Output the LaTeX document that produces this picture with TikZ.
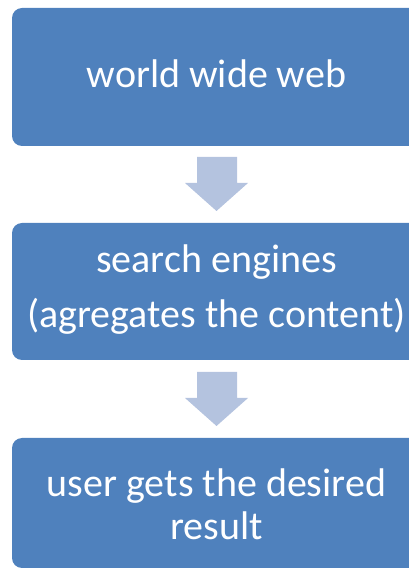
\documentclass[tikz,border=0pt]{standalone}
\usepackage{fontspec}
\setmainfont{Carlito}
\definecolor{boxblue}{HTML}{4F81BD}
\definecolor{arrowblue}{HTML}{B4C3DF}
\begin{document}
\begin{tikzpicture}[x=1pt,y=1pt,
  flowbox/.style={fill=boxblue, draw=none, rounded corners=10pt, minimum width=409pt, inner sep=0pt},
  boxtext/.style={text=white, anchor=base, inner sep=0pt, font=\fontsize{40}{43}\selectfont},
  blockarrow/.style={fill=arrowblue, draw=none}]
\useasboundingbox (0,0) rectangle (409,571);
\clip (0,0) rectangle (409,571);
% boxes
\node[flowbox, minimum height=138pt] (b1) at (216.5,494) {};
\node[flowbox, minimum height=137pt] (b2) at (216.5,279.5) {};
\node[flowbox, minimum height=130pt] (b3) at (216.5,68) {};
% texts
\node[boxtext] (t1) at (216.5,483) {world wide web};
\node[boxtext] (t2a) at (216.5,298) {search engines};
\node[boxtext] (t2b) at (216.5,243) {(agregates the content)};
\node[boxtext] (t3a) at (216.5,74) {user gets the desired};
\node[boxtext] (t3b) at (216.5,31) {result};
% block arrows
\foreach \y in {414, 199}{
  \fill[blockarrow] (197,\y) -- (237,\y) -- (237,\y-26) -- (248,\y-26) -- (216.5,\y-54) -- (185,\y-26) -- (197,\y-26) -- cycle;
}
\end{tikzpicture}
\end{document}
